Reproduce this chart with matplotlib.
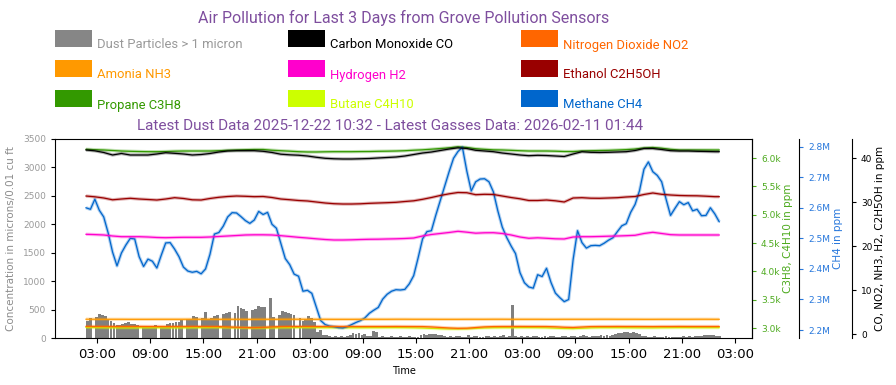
import numpy as np
import pandas as pd
import matplotlib
matplotlib.use("Agg")
import matplotlib.pyplot as plt
import matplotlib.dates as mdates
import matplotlib.ticker as ticker
import matplotlib.patches as mpatches

W, H = 896, 385

start = pd.Timestamp("2026-02-08 01:44")

# dust particle counts, one bar every 20 minutes
dust = [300, 346, 0, 375, 420, 410, 380, 330, 300, 270,
        235, 229, 240, 260, 275, 245, 240, 230, 0, 211,
        205, 200, 215, 229, 0, 211, 215, 250, 258, 270,
        275, 290, 317, 0, 328, 340, 387, 365, 0, 358,
        463, 330, 345, 387, 400, 0, 422, 440, 463, 0,
        434, 569, 522, 510, 481, 0, 490, 504, 563, 551,
        540, 0, 698, 375, 0, 405, 475, 460, 446, 420,
        405, 0, 346, 305, 330, 387, 346, 287, 111,
        140, 60, 45, 30,
        25, 40, 20, 35, 15, 30,
        60, 80, 75, 85, 55, 70,
        40, 30, 123, 105,
        20, 35, 15, 25, 30, 10, 20, 35, 25, 15, 30, 20, 10, 25,
        60, 70, 55, 75, 65, 70, 50, 45,
        30, 25, 40, 20, 35, 30, 15, 25, 45, 20, 30, 35, 25, 15, 40, 30,
        20, 35, 25, 30, 45, 20, 30,
        580,
        35, 25,
        30, 20, 35, 25, 40, 30, 15, 25, 35, 20, 30, 40, 25, 20, 35, 30,
        25, 40, 30, 20, 35, 45, 30, 25, 35, 40, 30, 50, 35, 45, 40, 55,
        75, 94, 85, 111, 100, 90, 105, 80, 70,
        40, 30, 25, 20, 35, 15, 25, 20, 30, 15, 25, 20, 10, 25, 30, 20,
        35, 25, 30, 40, 35, 45,
        50, 53, 45, 40,
        30]

# methane in ppm (millions), one reading every 30 minutes
ch4 = [2.600, 2.595, 2.628, 2.592, 2.570, 2.518, 2.455, 2.410, 2.452, 2.478,
       2.500, 2.498, 2.440, 2.408, 2.432, 2.425, 2.403, 2.445, 2.485, 2.486,
       2.465, 2.440, 2.406, 2.393, 2.389, 2.392, 2.384, 2.400, 2.448, 2.514,
       2.519, 2.540, 2.570, 2.584, 2.583, 2.571, 2.558, 2.549, 2.560, 2.588,
       2.578, 2.585, 2.546, 2.533, 2.484, 2.434, 2.414, 2.383, 2.376, 2.327,
       2.330, 2.320, 2.276, 2.231, 2.218, 2.213, 2.211, 2.208, 2.207, 2.211,
       2.218, 2.225, 2.231, 2.240, 2.255, 2.265, 2.274, 2.301, 2.317, 2.327,
       2.332, 2.331, 2.333, 2.351, 2.378, 2.436, 2.498, 2.522, 2.525, 2.576,
       2.623, 2.670, 2.718, 2.762, 2.784, 2.798, 2.720, 2.655, 2.685, 2.694,
       2.695, 2.685, 2.652, 2.590, 2.537, 2.503, 2.475, 2.450, 2.388, 2.355,
       2.341, 2.337, 2.381, 2.375, 2.402, 2.356, 2.321, 2.306, 2.293, 2.300,
       2.430, 2.525, 2.486, 2.468, 2.476, 2.477, 2.476, 2.484, 2.494, 2.502,
       2.522, 2.541, 2.548, 2.585, 2.611, 2.656, 2.726, 2.750, 2.718, 2.706,
       2.685, 2.628, 2.575, 2.598, 2.620, 2.610, 2.617, 2.590, 2.595, 2.574,
       2.575, 2.600, 2.580, 2.554]

# hourly gas readings (last one is the final sample)
co = [41.90, 41.71, 41.33, 40.76, 41.10, 40.76, 40.76, 40.76, 40.99, 41.28,
      41.14, 40.99, 40.76, 40.87, 41.10, 41.44, 41.67, 41.74, 41.74, 41.74,
      41.60, 41.33, 40.94, 40.80, 40.71, 40.53, 40.24, 40.01, 39.90, 39.85,
      39.85, 39.90, 39.96, 40.08, 40.19, 40.30, 40.53, 40.87, 41.21, 41.44,
      41.78, 42.12, 42.40, 42.24, 41.83, 41.67, 41.51, 41.21, 40.99, 40.76,
      40.60, 40.69, 40.64, 40.53, 40.42, 40.99, 41.51, 41.37, 41.33, 41.37,
      41.44, 41.51, 41.78, 42.24, 42.24, 42.01, 41.74, 41.67, 41.67, 41.60,
      41.56, 41.51, 41.51]
propane = [6154, 6147, 6142, 6133, 6124, 6119, 6115, 6112, 6112, 6115,
           6121, 6124, 6124, 6124, 6124, 6129, 6136, 6142, 6147, 6151,
           6151, 6138, 6129, 6121, 6112, 6107, 6107, 6110, 6112, 6112,
           6112, 6114, 6115, 6119, 6121, 6124, 6129, 6138, 6145, 6156,
           6168, 6180, 6198, 6186, 6165, 6154, 6145, 6142, 6136, 6129,
           6124, 6124, 6124, 6121, 6115, 6115, 6124, 6129, 6133, 6136,
           6142, 6149, 6159, 6177, 6186, 6173, 6154, 6142, 6142, 6142,
           6142, 6142, 6142]
ethanol = [31.42, 31.24, 30.97, 30.56, 30.74, 30.90, 30.74, 30.63, 30.51, 30.74,
           31.04, 30.86, 30.56, 30.51, 30.86, 31.13, 31.31, 31.42, 31.36, 31.27,
           31.31, 31.08, 30.74, 30.58, 30.40, 30.29, 30.06, 29.83, 29.67, 29.60,
           29.60, 29.65, 29.76, 29.83, 29.90, 29.99, 30.17, 30.33, 30.67, 31.08,
           31.54, 31.92, 32.22, 32.17, 31.72, 31.81, 31.77, 31.42, 31.08, 30.79,
           30.40, 30.40, 30.51, 30.33, 30.06, 30.97, 31.04, 30.92, 30.90, 30.97,
           31.04, 31.20, 31.31, 31.77, 32.11, 31.81, 31.65, 31.54, 31.49, 31.47,
           31.38, 31.27, 31.27]
h2 = [22.71, 22.64, 22.55, 22.32, 22.16, 22.16, 22.16, 22.09, 21.98, 21.93,
      21.98, 22.02, 22.02, 22.02, 22.09, 22.21, 22.32, 22.43, 22.55, 22.59,
      22.59, 22.55, 22.39, 22.21, 22.02, 21.86, 21.68, 21.52, 21.41, 21.41,
      21.45, 21.52, 21.57, 21.59, 21.64, 21.68, 21.75, 21.86, 22.32, 22.66,
      22.89, 23.12, 23.39, 23.19, 22.96, 23.05, 23.07, 22.89, 22.55, 22.09,
      21.80, 21.91, 21.80, 21.68, 21.64, 22.09, 22.16, 22.16, 22.21, 22.27,
      22.32, 22.39, 22.48, 22.89, 23.16, 22.89, 22.62, 22.55, 22.55, 22.55,
      22.55, 22.55, 22.55]
nh3 = [3.37, 3.37, 3.36, 3.36, 3.36, 3.35, 3.35, 3.35, 3.36, 3.36,
       3.36, 3.36, 3.37, 3.37, 3.37, 3.36, 3.36, 3.36, 3.35, 3.35,
       3.36, 3.36, 3.36, 3.37, 3.37, 3.36, 3.36, 3.36, 3.35, 3.35,
       3.35, 3.36, 3.36, 3.36, 3.36, 3.37, 3.37, 3.36, 3.36, 3.36,
       3.35, 3.35, 3.35, 3.36, 3.36, 3.36, 3.37, 3.37, 3.36, 3.36,
       3.36, 3.36, 3.35, 3.35, 3.36, 3.36, 3.36, 3.36, 3.37, 3.37,
       3.36, 3.36, 3.36, 3.35, 3.35, 3.36, 3.36, 3.36, 3.36, 3.37,
       3.37, 3.36, 3.36]
no2 = [1.74, 1.73, 1.72, 1.72, 1.71, 1.72, 1.73, 1.72, 1.72, 1.71,
       1.72, 1.72, 1.73, 1.72, 1.71, 1.70, 1.62, 1.55, 1.48, 1.45,
       1.52, 1.63, 1.70, 1.72, 1.73, 1.72, 1.72, 1.72, 1.73, 1.72,
       1.72, 1.71, 1.72, 1.72, 1.72, 1.73, 1.72, 1.71, 1.70, 1.62,
       1.50, 1.38, 1.30, 1.33, 1.48, 1.63, 1.70, 1.72, 1.72, 1.73,
       1.72, 1.72, 1.71, 1.65, 1.55, 1.50, 1.60, 1.70, 1.72, 1.72,
       1.73, 1.72, 1.72, 1.71, 1.70, 1.72, 1.72, 1.73, 1.72, 1.72,
       1.72, 1.72, 1.72]
butane = [3010, 3008, 3006, 3005, 3004, 3004, 3005, 3006, 3006, 3005,
          3004, 3005, 3006, 3007, 3008, 3008, 3006, 3004, 3002, 3000,
          3002, 3004, 3006, 3007, 3008, 3008, 3007, 3006, 3006, 3006,
          3005, 3005, 3006, 3006, 3007, 3007, 3006, 3004, 3000, 2994,
          2988, 2985, 2984, 2987, 2995, 3002, 3005, 3006, 3006, 3007,
          3007, 3006, 3004, 2998, 2992, 2990, 2996, 3003, 3006, 3006,
          3006, 3005, 3004, 3003, 3003, 3005, 3006, 3007, 3007, 3006,
          3006, 3006, 3006]

legend_items = [
    ("Dust Particles > 1 micron", "#868686", "#999999"),
    ("Carbon Monoxide CO", "#000000", "#000000"),
    ("Nitrogen Dioxide NO2", "#ff6600", "#ff6600"),
    ("Amonia NH3", "#ff9900", "#ff9900"),
    ("Hydrogen H2", "#ff00cc", "#ff00cc"),
    ("Ethanol C2H5OH", "#990000", "#990000"),
    ("Propane C3H8", "#339900", "#339900"),
    ("Butane C4H10", "#ccff00", "#ccff00"),
    ("Methane CH4", "#0066cc", "#0066cc"),
]
title = "Air Pollution for Last 3 Days from Grove Pollution Sensors"
subtitle = "Latest Dust Data 2025-12-22 10:32 - Latest Gasses Data: 2026-02-11 01:44"

dust_times = pd.date_range(start, periods=len(dust), freq="20min")
ch4_times = pd.date_range(start, periods=len(ch4), freq="30min")
slow_times = pd.date_range(start, periods=len(co) - 1, freq="h").append(
    pd.DatetimeIndex([ch4_times[-1]]))

purple = "#7e4e9e"
fig = plt.figure(figsize=(W / 100, H / 100), dpi=100)
ax = fig.add_axes([55 / W, 47 / H, 697 / W, 199 / H])

ax.bar(dust_times, dust, width=0.95 / 72, color="#808080", align="edge", zorder=1)
ax.set_ylim(0, 3500)
ax.yaxis.set_major_locator(ticker.MultipleLocator(500))
ax.tick_params(axis="y", labelsize=6.5, labelcolor="#999999", length=3)
ax.set_ylabel("Concentration in microns/0.01 cu ft", fontsize=7.5, color="#8c8c8c",
              labelpad=5)
ax.xaxis.set_major_locator(mdates.HourLocator(byhour=[3, 9, 15, 21]))
ax.xaxis.set_major_formatter(mdates.DateFormatter("%H:%M"))
ax.tick_params(axis="x", labelsize=9.5, length=3.5)
ax.set_xlabel("Time", fontsize=7)
ax.set_xlim(start - pd.Timedelta(hours=3.5), start + pd.Timedelta(hours=75.2))


def draw(a, t, v, c):
    a.plot(t, v, color=c, lw=2.4, alpha=0.3, solid_capstyle="butt")
    a.plot(t, v, color=c, lw=0.9)


# propane / butane axis
ax_g = ax.twinx()
draw(ax_g, slow_times, butane, "#ccff00")
draw(ax_g, slow_times, propane, "#339900")
ax_g.set_ylim(2824, 6336)
ax_g.yaxis.set_major_locator(ticker.MultipleLocator(500))
ax_g.yaxis.set_major_formatter(ticker.FuncFormatter(lambda v, p: "%.1fk" % (v / 1000)))
ax_g.tick_params(axis="y", labelsize=6.5, colors="#4daa1e", length=3)
ax_g.set_ylabel("C3H8, C4H10 in ppm", fontsize=7.5, color="#4daa1e", labelpad=2)

# methane axis
ax_b = ax.twinx()
ax_b.spines["right"].set_position(("outward", 34))
draw(ax_b, ch4_times, [v * 1e6 for v in ch4], "#0066cc")
ax_b.set_ylim(2.174e6, 2.825e6)
ax_b.yaxis.set_major_locator(ticker.MultipleLocator(1e5))
ax_b.yaxis.set_major_formatter(ticker.FuncFormatter(lambda v, p: "%.1fM" % (v / 1e6)))
ax_b.tick_params(axis="y", labelsize=6.5, colors="#2878dc", length=3)
ax_b.set_ylabel("CH4 in ppm", fontsize=7.5, color="#2878dc", labelpad=2)

# other gases axis
ax_k = ax.twinx()
ax_k.spines["right"].set_position(("outward", 72))
draw(ax_k, slow_times, nh3, "#ff9900")
draw(ax_k, slow_times, no2, "#ff6600")
draw(ax_k, slow_times, h2, "#ff00cc")
draw(ax_k, slow_times, ethanol, "#990000")
draw(ax_k, slow_times, co, "#000000")
ax_k.set_ylim(-0.9, 44.4)
ax_k.yaxis.set_major_locator(ticker.MultipleLocator(10))
ax_k.tick_params(axis="y", labelsize=6.5, length=3)
ax_k.set_ylabel("CO, NO2, NH3, H2, C2H5OH in ppm", fontsize=7.5, labelpad=2)

for a in (ax_g, ax_b, ax_k):
    for s in ("left", "top", "bottom"):
        a.spines[s].set_visible(False)

# titles
fig.text(403.5 / W, 1 - 23 / H, title, family="Roboto", fontsize=11.5,
         color=purple, ha="center", va="baseline")
fig.text(390 / W, 1 - 130 / H, subtitle, family="Roboto", fontsize=11,
         color=purple, ha="center", va="baseline")

# legend grid
col_x = [55, 288, 521]
row_y = [30, 60, 90]
for i, (label, c, tc) in enumerate(legend_items):
    x0 = col_x[i % 3]
    y0 = row_y[i // 3]
    fig.add_artist(mpatches.Rectangle((x0 / W, 1 - (y0 + 17) / H), 37 / W, 17 / H,
                                      transform=fig.transFigure, color=c, lw=0))
    fig.text((x0 + 42) / W, 1 - (y0 + 18.5) / H, label, family="Roboto",
             fontsize=9.4, color=tc, ha="left", va="baseline")

fig.savefig("out.png", dpi=100)
